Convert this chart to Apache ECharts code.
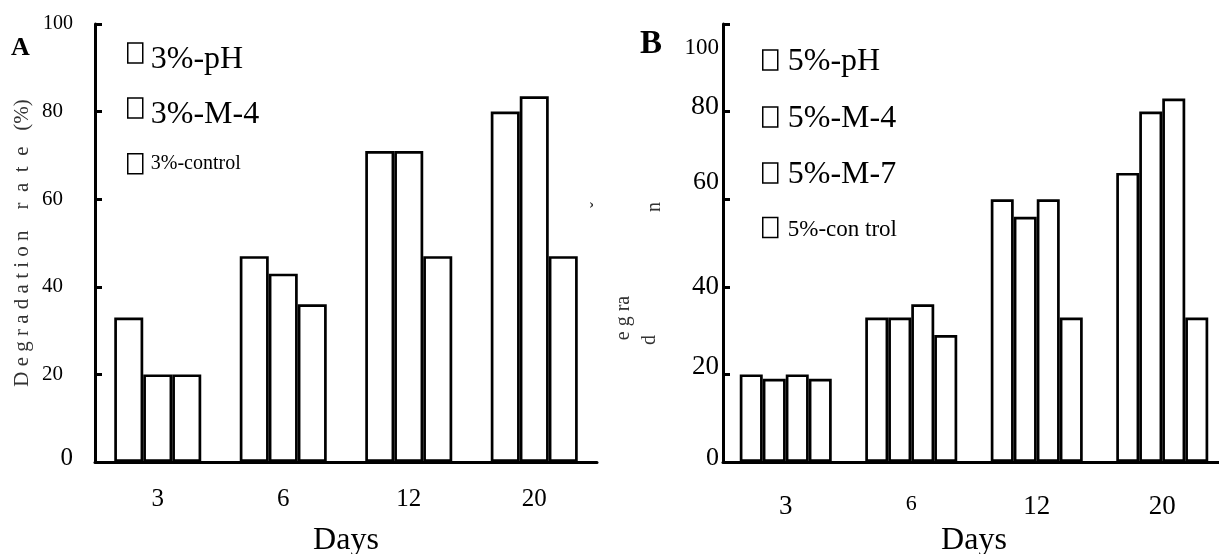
<!DOCTYPE html>
<html>
<head>
<meta charset="utf-8">
<script src="https://cdn.jsdelivr.net/npm/echarts@6/dist/echarts.min.js"></script>
<style>
html, body { margin: 0; padding: 0; background: #fff; }
#chart { width: 1219px; height: 554px; }
</style>
</head>
<body>
<div id="chart"></div>
<script>
var FONT = 'Liberation Serif';

// panel A (3%)
var daysA = ['3', '6', '12', '20'];
var namesA = ['3%-pH', '3%-M-4', '3%-control'];
var pH3 = [33, 47, 71, 80];
var m4_3 = [20, 43, 71, 83.5];
var control3 = [20, 36, 47, 47];

// panel B (5%)
var daysB = ['3', '6', '12', '20'];
var namesB = ['5%-pH', '5%-M-4', '5%-M-7', '5%-con trol'];
var pH5 = [20, 33, 60, 66];
var m4_5 = [19, 33, 56, 80];
var m7_5 = [20, 36, 60, 83];
var control5 = [19, 29, 33, 33];

var yTicks = [0, 20, 40, 60, 80, 100];

var myChart = echarts.init(document.getElementById('chart'));

function barSeries(name, data, idx, width) {
    return {
        name: name,
        type: 'bar',
        xAxisIndex: idx,
        yAxisIndex: idx,
        barWidth: width,
        barGap: '0%',
        itemStyle: {
            color: '#fff',
            borderColor: '#000',
            borderWidth: 2.7
        },
        emphasis: { disabled: true },
        data: data
    };
}

function xAxisCfg(idx, cats, fs, margin) {
    return {
        type: 'category',
        gridIndex: idx,
        data: cats,
        boundaryGap: true,
        name: 'Days',
        nameLocation: 'middle',
        nameGap: 63,
        nameTextStyle: { fontFamily: FONT, fontSize: 32, color: '#000' },
        axisLine: { lineStyle: { color: '#000', width: 3 } },
        axisTick: { inside: true, length: 14, interval: 0, lineStyle: { color: '#000', width: 3 } },
        axisLabel: { fontFamily: FONT, fontSize: fs, color: '#000', margin: margin, interval: 0 },
        splitLine: { show: false }
    };
}

// label styles per tick value, padding nudges the scanned label positions
function yAxisCfg(idx, margin, rich) {
    return {
        type: 'value',
        gridIndex: idx,
        min: yTicks[0],
        max: yTicks[yTicks.length - 1],
        interval: 20,
        axisLine: { show: true, lineStyle: { color: '#000', width: 3 } },
        axisTick: { show: true, inside: true, length: 7, lineStyle: { color: '#000', width: 3 } },
        axisLabel: {
            margin: margin,
            formatter: function(v) {
                return '{v' + v + '|' + v + '}';
            },
            rich: rich
        },
        splitLine: { show: false }
    };
}

function lab(fs, pad) {
    return { fontFamily: FONT, fontSize: fs, color: '#000', padding: pad };
}

var xA = xAxisCfg(0, daysA, 25, 25);
var xB = xAxisCfg(1, daysB.map(function(d) {
    return d == '6' ? { value: d, textStyle: { fontSize: 22 } } : d;
}), 27, 31);

var yA = yAxisCfg(0, 22, {
    v0: lab(25, [0, 0, 8, 0]),
    v20: lab(21, [0, 10, 0, 0]),
    v40: lab(21, [0, 10, 0, 0]),
    v60: lab(21, [0, 10, 0, 0]),
    v80: lab(21, [0, 10, 0, 0]),
    v100: lab(20, [0, 0, 0, 0])
});
yA.name = 'D e g r a d a t i o n    r  a  t  e   (%)';
yA.nameLocation = 'middle';
yA.nameRotate = 90;
yA.nameGap = 62;
yA.nameTextStyle = { fontFamily: FONT, fontSize: 21, color: '#333' };

var yB = yAxisCfg(1, 4, {
    v0: lab(26, [0, 0, 8, 0]),
    v20: lab(27, [0, 0, 14, 0]),
    v40: lab(27, [0, 0, 0, 0]),
    v60: lab(26, [0, 0, 34, 0]),
    v80: lab(28, [0, 0, 10, 0]),
    v100: lab(23, [48, 0, 0, 0])
});

// one legend per entry so each row sits where the scan has it
function legendItem(name, left, top, size, drop, gapLeft) {
    return {
        orient: 'vertical',
        left: left,
        top: top,
        padding: 0,
        itemWidth: 15,
        itemHeight: 20,
        icon: 'rect',
        selectedMode: false,
        itemStyle: { color: '#fff', borderColor: '#000', borderWidth: 1.5 },
        formatter: '{t|{name}}',
        textStyle: {
            rich: {
                t: { fontFamily: FONT, fontSize: size, color: '#000', lineHeight: 30, padding: [drop * 2, 0, 0, gapLeft] }
            }
        },
        data: [name]
    };
}

var legendsA = [
    legendItem(namesA[0], 127, 30, 32, 7, 3),
    legendItem(namesA[1], 127, 85, 32, 7, 3),
    legendItem(namesA[2], 127, 153, 20, 0, 3)
];
var legendsB = [
    legendItem(namesB[0], 762, 42, 32, 2, 5),
    legendItem(namesB[1], 762, 99, 32, 2, 5),
    legendItem(namesB[2], 762, 155, 32, 2, 5),
    legendItem(namesB[3], 762, 214, 23, 2, 5)
];

var option = {
    animation: false,
    backgroundColor: '#fff',
    grid: [
        { left: 95, top: 24, width: 502, height: 438, outerBoundsMode: 'none' },
        { left: 723, top: 24, width: 502, height: 438, outerBoundsMode: 'none' }
    ],
    legend: legendsA.concat(legendsB),
    xAxis: [xA, xB],
    yAxis: [yA, yB],
    graphic: [
        { type: 'text', left: 11, top: 35, style: { text: 'A', font: 'bold 26px "Liberation Serif"', fill: '#000' } },
        { type: 'text', left: 640, top: 28, style: { text: 'B', font: 'bold 33px "Liberation Serif"', fill: '#000' } },
        { type: 'text', x: 624, y: 318, rotation: Math.PI / 2, style: { text: 'e g ra', font: '20px "Liberation Serif"', fill: '#333', align: 'center', verticalAlign: 'middle' } },
        { type: 'text', x: 650, y: 340, rotation: Math.PI / 2, style: { text: 'd', font: '20px "Liberation Serif"', fill: '#333', align: 'center', verticalAlign: 'middle' } },
        { type: 'text', x: 655, y: 207, rotation: Math.PI / 2, style: { text: 'n', font: '20px "Liberation Serif"', fill: '#333', align: 'center', verticalAlign: 'middle' } },
        { type: 'text', x: 598, y: 205, rotation: Math.PI / 2, style: { text: 'ˇ', font: '18px "Liberation Serif"', fill: '#333', align: 'center', verticalAlign: 'middle' } }
    ],
    series: [
        barSeries(namesA[0], pH3, 0, 29),
        barSeries(namesA[1], m4_3, 0, 29),
        barSeries(namesA[2], control3, 0, 29),
        barSeries(namesB[0], pH5, 1, 23),
        barSeries(namesB[1], m4_5, 1, 23),
        barSeries(namesB[2], m7_5, 1, 23),
        barSeries(namesB[3], control5, 1, 23)
    ]
};

myChart.setOption(option);

window.addEventListener('resize', function() {
    myChart.resize();
});
</script>
</body>
</html>
